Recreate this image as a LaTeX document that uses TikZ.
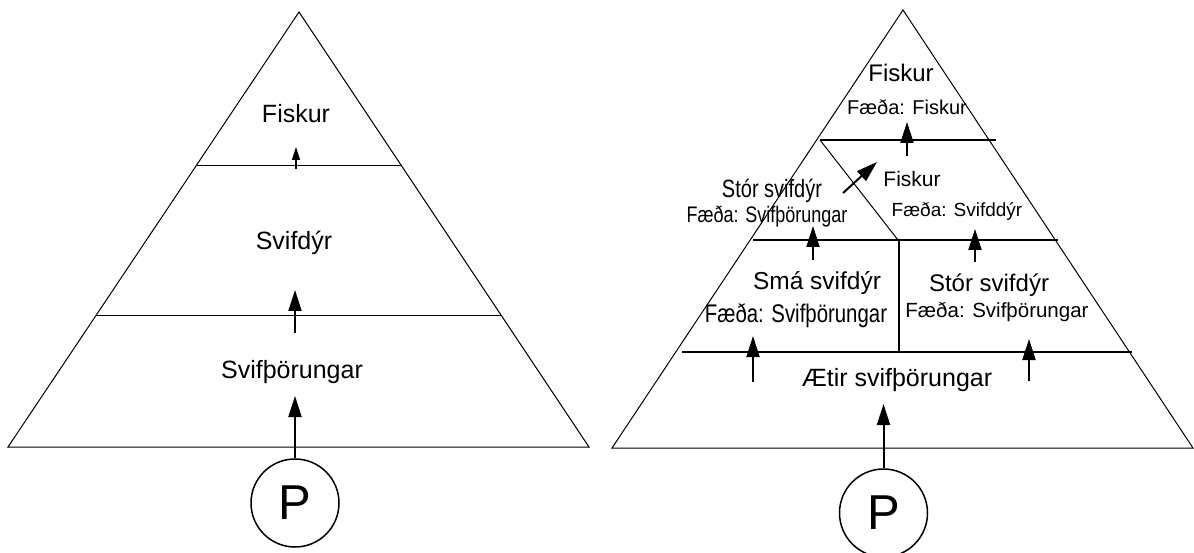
\documentclass[tikz,border=0pt]{standalone}
\usepackage{fontspec}
\setmainfont{Liberation Sans}
\newfontfamily\narrowfont[FakeStretch=0.8]{Liberation Sans}
\usetikzlibrary{arrows.meta}

\newcommand{\fs}[1]{\fontsize{#1}{#1}\selectfont}

\tikzset{
  lbl/.style={anchor=base, inner sep=0pt},
  edge/.style={line width=1pt},
  bar/.style={line width=2pt},
  up/.style={-{Triangle[length=21pt,width=13pt]}, line width=2pt},
  upsmall/.style={-{Triangle[length=13pt,width=8pt]}, line width=1.3pt},
  prod/.style={circle, draw, line width=1.5pt, minimum size=88pt,
    inner sep=0pt, font=\fs{49}},
}

\begin{document}
\begin{tikzpicture}[x=1pt, y=-1pt]
 \useasboundingbox (0,0) rectangle (1194,553);

 % left pyramid
 \draw[edge] (299,12) -- (589,447) -- (8,447) -- cycle;
 \draw[edge] (197,166) -- (401,166);
 \draw[edge] (96,316) -- (502,316);

 \node[lbl, font=\fs{25}] (fishL) at (296,123) {Fiskur};
 \node[lbl, font=\fs{25}] (zooL) at (294,250) {Svifdýr};
 \node[lbl, font=\fs{25}] (phytoL) at (292,378) {Svifþörungar};
 \node[prod] (pL) at (295,503) {P};

 \coordinate (tailL1) at (296,169);
 \coordinate (tipL1) at (296,147);
 \coordinate (tailL2) at (295,333);
 \coordinate (tipL2) at (295,290);
 \coordinate (tipL3) at (295,396);

 \draw[upsmall] (tailL1) -- (tipL1);
 \draw[up] (tailL2) -- (tipL2);
 \draw[up] (pL.north) -- (tipL3);

 % right pyramid
 \draw[edge] (903,10) -- (1193,448) -- (612,448) -- cycle;
 \draw[bar] (820,140) -- (996,140);
 \draw[edge] (820,140) -- (898,240);
 \draw[bar] (753,240) -- (1058,240);
 \draw[bar] (899,240) -- (899,352);
 \draw[bar] (682,352) -- (1132,352);

 \node[lbl, font=\fs{24}] (fishTop) at (901,82) {Fiskur};
 \node[lbl, font=\fs{20}] (fishTopFood) at (907,115) {Fæða: Fiskur};
 \node[lbl, font=\fs{21}] (fishMid) at (912,187) {Fiskur};
 \node[lbl, font=\fs{19}] (fishMidFood) at (957,217) {Fæða: Svifddýr};
 \node[lbl, font=\narrowfont\fs{25}] (bigZooL) at (772,198) {Stór svifdýr};
 \node[lbl, font=\narrowfont\fs{22.5}] (bigZooLFood) at (767,223) {Fæða: Svifþörungar};
 \node[lbl, font=\fs{24.5}] (smallZoo) at (817,290) {Smá svifdýr};
 \node[lbl, font=\narrowfont\fs{25.5}] (smallZooFood) at (796,323) {Fæða: Svifþörungar};
 \node[lbl, font=\fs{24}] (bigZooR) at (989,292) {Stór svifdýr};
 \node[lbl, font=\fs{20.5}] (bigZooRFood) at (997,318) {Fæða: Svifþörungar};
 \node[lbl, font=\fs{25}] (grazer) at (897,386) {Ætir svifþörungar};
 \node[prod] (pR) at (883.5,513) {P};

 \coordinate (tailR1) at (907,156);
 \coordinate (tipR1) at (907,122);
 \coordinate (tailR2) at (843,193);
 \coordinate (tipR2) at (877,162);
 \coordinate (tailR3) at (813,260);
 \coordinate (tipR3) at (813,226);
 \coordinate (tailR4) at (975,262);
 \coordinate (tipR4) at (975,229);
 \coordinate (tailR5) at (753,382);
 \coordinate (tipR5) at (753,336);
 \coordinate (tailR6) at (1029,381);
 \coordinate (tipR6) at (1029,339);
 \coordinate (tipR7) at (883.5,404);

 \draw[up] (tailR1) -- (tipR1);
 \draw[up] (tailR2) -- (tipR2);
 \draw[up] (tailR3) -- (tipR3);
 \draw[up] (tailR4) -- (tipR4);
 \draw[up] (tailR5) -- (tipR5);
 \draw[up] (tailR6) -- (tipR6);
 \draw[up] (pR.north) -- (tipR7);
\end{tikzpicture}
\end{document}
